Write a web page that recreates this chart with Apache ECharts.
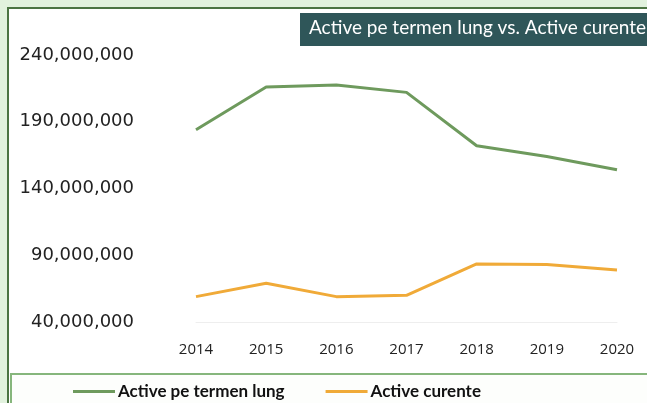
<!DOCTYPE html>
<html>
<head>
<meta charset="utf-8">
<style>
  html, body { margin: 0; padding: 0; background: #fff; }
  #chart { width: 647px; height: 403px; }
</style>
<script src="https://cdn.jsdelivr.net/npm/echarts@6/dist/echarts.min.js"></script>
</head>
<body>
<div id="chart"></div>
<script>
// values
const years = ['2014', '2015', '2016', '2017', '2018', '2019', '2020']
const activeLungTermen = [184000000, 216000000, 217500000, 212000000, 172000000, 164000000, 154000000]
const activeCurente = [59000000, 69000000, 59000000, 60000000, 83500000, 83000000, 79000000]
const yTicks = [40000000, 90000000, 140000000, 190000000, 240000000]

const titleText = 'Active pe termen lung vs. Active curente'
const font = 'Lato, "Open Sans", sans-serif'

const chart = echarts.init(document.getElementById('chart'))

chart.setOption({
  animation: false,
  backgroundColor: '#fff',
  graphic: [
    { type: 'rect', z: -20, shape: { x: 0, y: 0, width: 647, height: 403 }, style: { fill: '#e2f2de' } },
    { type: 'rect', z: -19, shape: { x: 8, y: 8, width: 650, height: 410 }, style: { fill: '#fff', stroke: '#4c7443', lineWidth: 2 } },
    { type: 'rect', z: -18, shape: { x: 11, y: 374, width: 650, height: 40 }, style: { fill: '#fdfefc', stroke: '#86b67c', lineWidth: 2 } },
    { type: 'rect', z: -17, shape: { x: 300, y: 13, width: 350, height: 33 }, style: { fill: '#2f5659' } },
    {
      type: 'text', z: 5, left: 309, top: 18,
      style: { text: titleText, fill: '#ffffff', font: '19px ' + font }
    }
  ],
  grid: { left: 196, right: 30, top: 55, bottom: 81 },
  legend: {
    data: ['Active pe termen lung', 'Active curente'],
    left: 68,
    top: 378,
    icon: 'rect',
    itemWidth: 42,
    itemHeight: 3,
    itemGap: 41,
    textStyle: { fontFamily: font, fontSize: 17, fontWeight: 'bold', color: '#111', padding: [0, 0, 0, -2] }
  },
  xAxis: {
    type: 'category',
    data: years,
    boundaryGap: false,
    axisLine: { show: true, lineStyle: { color: '#eeeeee', width: 1 } },
    axisTick: { show: false },
    axisLabel: { margin: 20, fontFamily: '"Open Sans", sans-serif', fontSize: 15, color: '#222' }
  },
  yAxis: {
    type: 'value',
    min: 40000000,
    max: 240000000,
    splitLine: { show: false },
    axisLine: { show: false },
    axisTick: { show: false },
    axisLabel: {
      margin: 62,
      fontFamily: '"DejaVu Sans", sans-serif',
      fontSize: 18,
      color: '#222',
      customValues: yTicks,
      formatter: v => v.toLocaleString('en-US')
    }
  },
  series: [
    {
      name: 'Active pe termen lung',
      type: 'line',
      data: activeLungTermen,
      symbol: 'none',
      color: '#6e9a5d',
      lineStyle: { color: '#6e9a5d', width: 3 }
    },
    {
      name: 'Active curente',
      type: 'line',
      data: activeCurente,
      symbol: 'none',
      color: '#f0aa38',
      lineStyle: { color: '#f0aa38', width: 3 }
    }
  ]
})
</script>
</body>
</html>
